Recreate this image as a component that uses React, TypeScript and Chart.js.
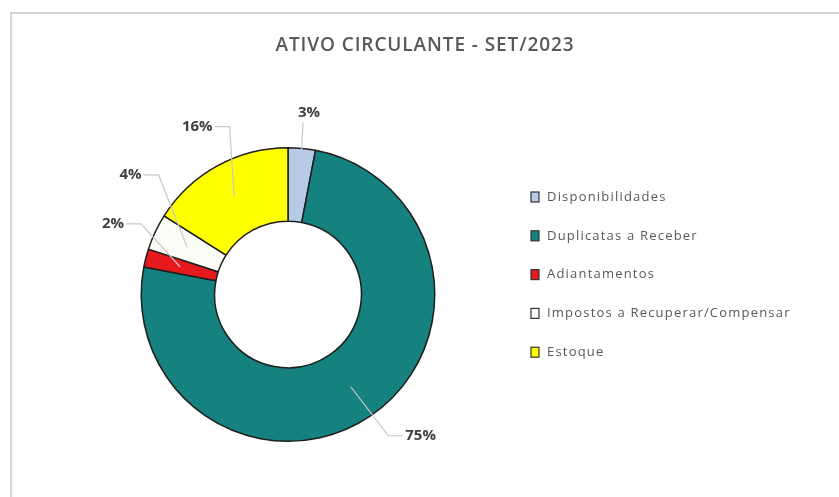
import React, { useEffect, useRef } from "react";
import { Chart, registerables } from "chart.js";

Chart.register(...registerables);

const TITLE = "ATIVO CIRCULANTE - SET/2023";
const categories = [
  "Disponibilidades",
  "Duplicatas a Receber",
  "Adiantamentos",
  "Impostos a Recuperar/Compensar",
  "Estoque",
];
const shares = [3, 75, 2, 4, 16];
const percentLabels = ["3%", "75%", "2%", "4%", "16%"];
const sliceColors = ["#B7CBE6", "#16827F", "#E5191E", "#FCFCF7", "#FFFF00"];

// label placement tweaks: rotation (degrees) from slice middle, and distance beyond the rim
const labelAngleNudge = [1.2, -9, 7.6, 12, 0.4];
const labelGap = [36, 47, 42, 51, 44];

const W = 839;
const H = 497;

const decorPlugin = {
  id: "decor",
  beforeDraw(chart: any) {
    const ctx = chart.ctx;
    ctx.save();
    ctx.fillStyle = "#ffffff";
    ctx.fillRect(0, 0, W, H);
    ctx.strokeStyle = "#D6D6D6";
    ctx.lineWidth = 2;
    ctx.beginPath();
    ctx.moveTo(11, H);
    ctx.lineTo(11, 13);
    ctx.lineTo(W, 13);
    ctx.stroke();
    // title
    ctx.fillStyle = "#595959";
    ctx.font = "600 19px 'Open Sans'";
    (ctx as any).letterSpacing = "0.9px";
    ctx.textAlign = "center";
    ctx.textBaseline = "middle";
    ctx.fillText(TITLE, 425, 46);
    ctx.restore();
  },
  afterDatasetsDraw(chart: any) {
    const ctx = chart.ctx;
    const meta = chart.getDatasetMeta(0);
    ctx.save();
    ctx.font = "bold 15px 'Open Sans'";
    ctx.textBaseline = "middle";
    meta.data.forEach((arc: any, i: number) => {
      const { x, y, startAngle, endAngle, outerRadius } = arc.getProps(
        ["x", "y", "startAngle", "endAngle", "outerRadius"],
        true
      );
      const mid = (startAngle + endAngle) / 2;
      const la = mid + (labelAngleNudge[i] * Math.PI) / 180;
      const dist = outerRadius + labelGap[i];
      const lx = x + Math.cos(la) * dist;
      const ly = y + Math.sin(la) * dist;
      const text = percentLabels[i];
      const tw = ctx.measureText(text).width;
      // leader line
      const ir = outerRadius * 0.76;
      const sx = x + Math.cos(mid) * ir;
      const sy = y + Math.sin(mid) * ir;
      ctx.strokeStyle = "#C8C8C8";
      ctx.lineWidth = 1.2;
      ctx.beginPath();
      if (Math.abs(Math.cos(la)) < 0.2) {
        ctx.moveTo(lx - 6, ly + (Math.sin(la) < 0 ? 10 : -10));
        ctx.lineTo(x + Math.cos(mid) * (outerRadius * 0.99), y + Math.sin(mid) * (outerRadius * 0.99));
      } else {
        const side = Math.cos(la) > 0 ? -1 : 1;
        const ex = lx + side * (tw / 2 + 2);
        const elbowX = ex + side * 15;
        ctx.moveTo(ex, ly);
        ctx.lineTo(elbowX, ly);
        ctx.lineTo(sx, sy);
      }
      ctx.stroke();
      ctx.fillStyle = "#404040";
      ctx.textAlign = "center";
      ctx.fillText(text, lx, ly);
    });
    ctx.restore();
  },
  afterDraw(chart: any) {
    const ctx = chart.ctx;
    const ds = chart.data.datasets[0];
    ctx.save();
    ctx.font = "13px 'Open Sans'";
    (ctx as any).letterSpacing = "1.2px";
    ctx.textBaseline = "middle";
    ctx.textAlign = "left";
    chart.data.labels.forEach((lab: string, i: number) => {
      const cy = 197 + i * 38.8;
      ctx.fillStyle = ds.backgroundColor[i];
      ctx.fillRect(531, cy - 5, 8, 10);
      ctx.strokeStyle = "#333333";
      ctx.lineWidth = 1.2;
      ctx.strokeRect(531, cy - 5, 8, 10);
      ctx.fillStyle = "#595959";
      ctx.fillText(lab, 547, cy);
    });
    ctx.restore();
  },
};

export default function App() {
  const ref = useRef<HTMLCanvasElement>(null);
  useEffect(() => {
    document.body.style.margin = "0";
    const chart = new Chart(ref.current!, {
      type: "doughnut",
      data: {
        labels: categories,
        datasets: [
          {
            data: shares,
            backgroundColor: sliceColors,
            borderColor: "#1E1E1E",
            borderWidth: 1.5,
          },
        ],
      },
      options: {
        responsive: false,
        animation: false,
        cutout: "50%",
        layout: { padding: { left: 140, right: 403, top: 147, bottom: 55 } },
        plugins: {
          legend: { display: false },
          title: { display: false },
          tooltip: { enabled: false },
        },
      },
      plugins: [decorPlugin],
    });
    return () => chart.destroy();
  }, []);
  return (
    <div style={{ width: W, height: H }}>
      <canvas ref={ref} width={W} height={H} />
    </div>
  );
}
